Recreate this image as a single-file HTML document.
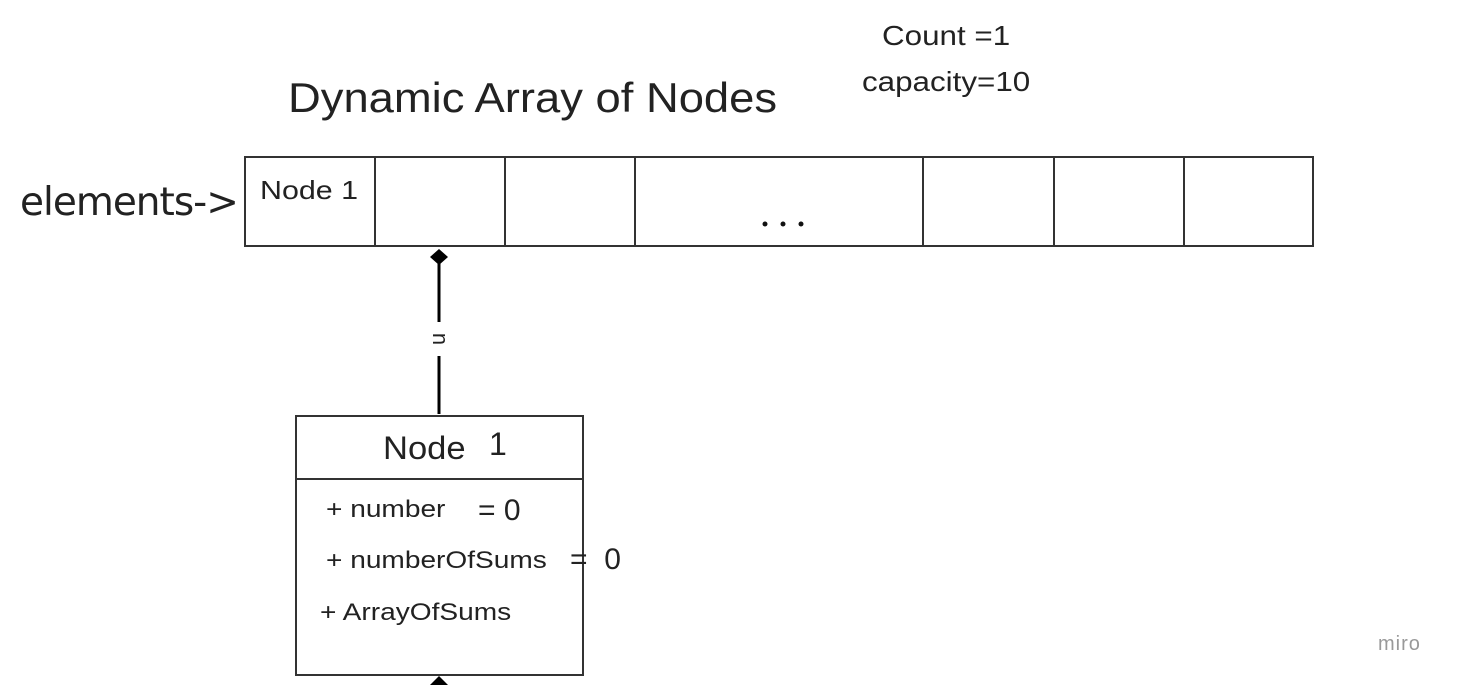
<!DOCTYPE html>
<html><head><style>
body{margin:0;width:1458px;height:685px;background:#fff;position:relative;overflow:hidden;font-family:"Liberation Sans",Arial,sans-serif;color:#222}
.a{position:absolute;white-space:nowrap;transform-origin:0 50%}
.s{transform:scaleX(1.17)}
</style></head><body>
<div class="a" style="left:882px;top:20px;font-size:28px;transform:scaleX(1.12)">Count =1</div>
<div class="a" style="left:862px;top:66px;font-size:28px;transform:scaleX(1.12)">capacity=10</div>
<div class="a" style="left:288px;top:74px;font-size:42px;transform:scaleX(1.08)">Dynamic Array of Nodes</div>
<div class="a" style="left:20px;top:180px;font-size:39px;font-family:'DejaVu Sans',sans-serif;letter-spacing:-1px">elements-&gt;</div>
<svg class="a" style="left:0;top:0" width="1458" height="685">
<g stroke="#333" stroke-width="2" fill="none">
<rect x="245" y="157" width="1068" height="89"/>
<line x1="375" y1="157" x2="375" y2="246"/>
<line x1="505" y1="157" x2="505" y2="246"/>
<line x1="635" y1="157" x2="635" y2="246"/>
<line x1="923" y1="157" x2="923" y2="246"/>
<line x1="1054" y1="157" x2="1054" y2="246"/>
<line x1="1184" y1="157" x2="1184" y2="246"/>
<rect x="296" y="416" width="287" height="259"/>
<line x1="296" y1="479" x2="583" y2="479"/>
</g>
<g stroke="#000" stroke-width="3">
<line x1="439" y1="262" x2="439" y2="322"/>
<line x1="439" y1="356" x2="439" y2="414"/>
</g>
<polygon points="439,249 448,257 439,265 430,257" fill="#000"/>
<polygon points="439,676 448,685 430,685" fill="#000"/>
<circle cx="765" cy="224" r="2.5" fill="#111"/>
<circle cx="783" cy="224" r="2.5" fill="#111"/>
<circle cx="801" cy="224" r="2.5" fill="#111"/>
<text x="439" y="339" font-size="22" fill="#222" text-anchor="middle" dominant-baseline="middle" transform="rotate(90 439 339)" font-family="Liberation Sans">n</text>
</svg>
<div class="a s" style="left:260px;top:175px;font-size:26px">Node 1</div>
<div class="a" style="left:383px;top:430px;font-size:32px;transform:scaleX(1.08)">Node</div>
<div class="a" style="left:489px;top:426px;font-size:32px">1</div>
<div class="a s" style="left:326px;top:496px;font-size:24px">+ number</div>
<div class="a" style="left:478px;top:494px;font-size:30px">= 0</div>
<div class="a s" style="left:326px;top:547px;font-size:24px">+ numberOfSums</div>
<div class="a" style="left:570px;top:543px;font-size:30px">=&nbsp;&nbsp;0</div>
<div class="a s" style="left:320px;top:599px;font-size:24px">+ ArrayOfSums</div>
<div class="a" style="left:1378px;top:633px;font-size:20px;color:#999;letter-spacing:1px">miro</div>
</body></html>
